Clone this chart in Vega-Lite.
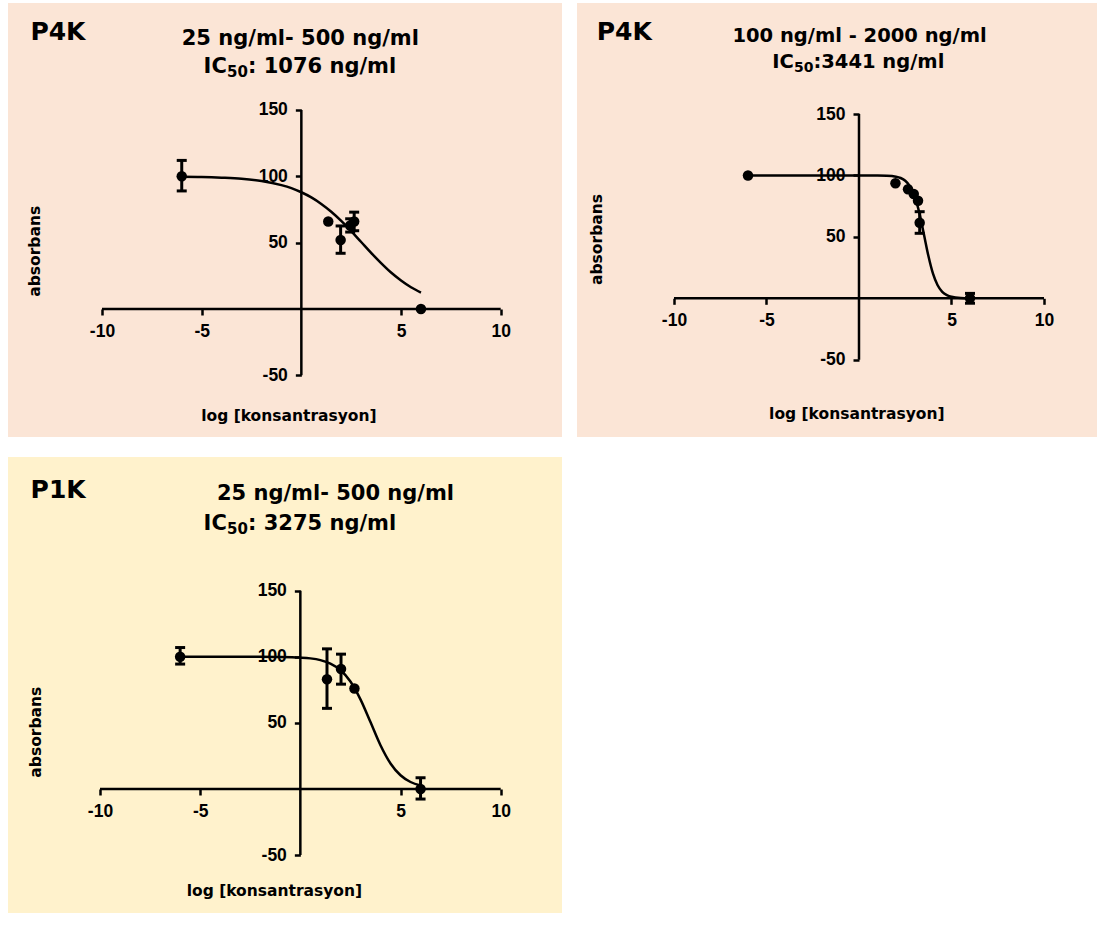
{
  "$schema": "https://vega.github.io/schema/vega-lite/v6.json",
  "background": "#ffffff",
  "padding": {"left": 8, "top": 3, "right": 0, "bottom": 0},
  "config": {
    "view": {"stroke": null},
    "axis": {
      "domain": false,
      "grid": false,
      "tickColor": "#000000",
      "tickWidth": 2.5,
      "tickSize": 6,
      "labelFont": "Liberation Sans",
      "labelFontWeight": "bold",
      "labelFontSize": 17.5,
      "labelColor": "#000000",
      "labelOverlap": false,
      "labelFlush": false,
      "labelExpr": "'' + datum.value",
      "titleFont": "DejaVu Sans",
      "titleFontWeight": "bold",
      "titleFontSize": 15.5,
      "titleColor": "#000000",
      "titleBaseline": "middle",
      "titleAlign": "center"
    },
    "text": {"font": "DejaVu Sans", "fontWeight": "bold", "color": "#000000", "baseline": "alphabetic"}
  },
  "datasets": {
    "c1": [
      {"x": -6, "y": 99.7}, {"x": -5, "y": 99.5}, {"x": -4, "y": 99.0}, {"x": -3, "y": 98.2},
      {"x": -2, "y": 96.5}, {"x": -1, "y": 93.4}, {"x": -0.5, "y": 91.1}, {"x": 0, "y": 88.0},
      {"x": 0.5, "y": 84.1}, {"x": 1, "y": 79.2}, {"x": 1.5, "y": 73.3}, {"x": 2, "y": 66.4},
      {"x": 2.5, "y": 58.7}, {"x": 3, "y": 50.5}, {"x": 3.5, "y": 42.3}, {"x": 4, "y": 34.6},
      {"x": 4.5, "y": 27.5}, {"x": 5, "y": 21.5}, {"x": 5.5, "y": 16.4}, {"x": 6, "y": 12.4}
    ],
    "pt1": [
      {"x": -6, "y": 100}, {"x": 1.35, "y": 66}, {"x": 1.97, "y": 52},
      {"x": 2.45, "y": 63}, {"x": 2.65, "y": 66}, {"x": 6, "y": 0}
    ],
    "er1": [
      {"x": -6, "lo": 89, "hi": 112}, {"x": 1.97, "lo": 42, "hi": 62.6},
      {"x": 2.45, "lo": 58, "hi": 68}, {"x": 2.65, "lo": 59, "hi": 73}
    ],
    "c2": [
      {"x": -6, "y": 100}, {"x": -4, "y": 100}, {"x": -2, "y": 100}, {"x": 0, "y": 100},
      {"x": 1, "y": 99.95}, {"x": 1.5, "y": 99.8}, {"x": 2, "y": 99.0}, {"x": 2.25, "y": 97.9},
      {"x": 2.5, "y": 95.7}, {"x": 2.75, "y": 91.3}, {"x": 3, "y": 83.3}, {"x": 3.25, "y": 70.2},
      {"x": 3.5, "y": 52.8}, {"x": 3.75, "y": 34.6}, {"x": 4, "y": 20.0}, {"x": 4.25, "y": 10.6},
      {"x": 4.5, "y": 5.3}, {"x": 4.75, "y": 2.6}, {"x": 5, "y": 1.2}, {"x": 5.5, "y": 0.3}, {"x": 6, "y": 0.1}
    ],
    "pt2": [
      {"x": -6, "y": 100}, {"x": 1.97, "y": 93.6}, {"x": 2.65, "y": 88.7}, {"x": 2.96, "y": 84.9},
      {"x": 3.19, "y": 79.4}, {"x": 3.28, "y": 61.5}, {"x": 6, "y": 0}
    ],
    "er2": [
      {"x": 3.28, "lo": 52.9, "hi": 70.5}, {"x": 6, "lo": -4, "hi": 4}
    ],
    "c3": [
      {"x": -6, "y": 100}, {"x": -4, "y": 100}, {"x": -2, "y": 99.97}, {"x": -1, "y": 99.86},
      {"x": 0, "y": 99.4}, {"x": 0.5, "y": 98.8}, {"x": 1, "y": 97.5}, {"x": 1.5, "y": 94.9},
      {"x": 2, "y": 90.0}, {"x": 2.5, "y": 81.3}, {"x": 3, "y": 67.8}, {"x": 3.5, "y": 50.6},
      {"x": 4, "y": 33.1}, {"x": 4.5, "y": 19.3}, {"x": 5, "y": 10.4}, {"x": 5.5, "y": 5.3}, {"x": 6, "y": 2.6}
    ],
    "pt3": [
      {"x": -6, "y": 100}, {"x": 1.33, "y": 83}, {"x": 2.03, "y": 90.8}, {"x": 2.7, "y": 76}, {"x": 6, "y": 0}
    ],
    "er3": [
      {"x": -6, "lo": 94.5, "hi": 107}, {"x": 1.33, "lo": 61, "hi": 106},
      {"x": 2.03, "lo": 79.3, "hi": 102}, {"x": 6, "lo": -7.6, "hi": 8.5}
    ]
  },
  "spacing": 20,
  "vconcat": [
    {
      "spacing": 15,
      "hconcat": [
        {
          "width": 554,
          "height": 434,
          "view": {"fill": "#FBE5D6", "stroke": null},
          "layer": [
            {
              "data": {"name": "c1"},
              "mark": {"type": "line", "color": "#000000", "strokeWidth": 2.5, "interpolate": "monotone"},
              "encoding": {
                "x": {"field": "x", "type": "quantitative", "scale": {"domain": [-14.715, 13.075], "nice": false, "zero": false},
                  "axis": {"offset": -128, "values": [-10, -5, 5, 10], "title": "log [konsantrasyon]", "titleX": 280.4, "titleY": 106, "labelPadding": 7}},
                "y": {"field": "y", "type": "quantitative", "scale": {"domain": [-96.48, 230.65], "nice": false, "zero": false},
                  "axis": {"offset": -293.35, "values": [-50, 50, 100, 150], "title": "absorbans", "titleX": -266.5, "titleY": 247.8, "labelPadding": 8}}
              }
            },
            {
              "data": {"values": [{}]},
              "mark": {"type": "rule", "color": "#000000", "strokeWidth": 2.5},
              "encoding": {
                "x": {"datum": -10, "type": "quantitative", "scale": {"domain": [-14.715, 13.075], "nice": false, "zero": false}},
                "x2": {"datum": 10},
                "y": {"datum": 0, "type": "quantitative", "scale": {"domain": [-96.48, 230.65], "nice": false, "zero": false}}
              }
            },
            {
              "data": {"values": [{}]},
              "mark": {"type": "rule", "color": "#000000", "strokeWidth": 2.5},
              "encoding": {
                "x": {"datum": 0, "type": "quantitative", "scale": {"domain": [-14.715, 13.075], "nice": false, "zero": false}},
                "y": {"datum": -50, "type": "quantitative", "scale": {"domain": [-96.48, 230.65], "nice": false, "zero": false}},
                "y2": {"datum": 150}
              }
            },
            {
              "data": {"name": "er1"},
              "mark": {"type": "rule", "color": "#000000", "strokeWidth": 3},
              "encoding": {
                "x": {"field": "x", "type": "quantitative", "scale": {"domain": [-14.715, 13.075], "nice": false, "zero": false}},
                "y": {"field": "lo", "type": "quantitative", "scale": {"domain": [-96.48, 230.65], "nice": false, "zero": false}},
                "y2": {"field": "hi"}
              }
            },
            {
              "data": {"name": "er1"},
              "mark": {"type": "tick", "orient": "horizontal", "color": "#000000", "size": 10, "thickness": 3, "opacity": 1},
              "encoding": {
                "x": {"field": "x", "type": "quantitative", "scale": {"domain": [-14.715, 13.075], "nice": false, "zero": false}},
                "y": {"field": "lo", "type": "quantitative", "scale": {"domain": [-96.48, 230.65], "nice": false, "zero": false}}
              }
            },
            {
              "data": {"name": "er1"},
              "mark": {"type": "tick", "orient": "horizontal", "color": "#000000", "size": 10, "thickness": 3, "opacity": 1},
              "encoding": {
                "x": {"field": "x", "type": "quantitative", "scale": {"domain": [-14.715, 13.075], "nice": false, "zero": false}},
                "y": {"field": "hi", "type": "quantitative", "scale": {"domain": [-96.48, 230.65], "nice": false, "zero": false}}
              }
            },
            {
              "data": {"name": "pt1"},
              "mark": {"type": "circle", "color": "#000000", "size": 110, "opacity": 1},
              "encoding": {
                "x": {"field": "x", "type": "quantitative", "scale": {"domain": [-14.715, 13.075], "nice": false, "zero": false}},
                "y": {"field": "y", "type": "quantitative", "scale": {"domain": [-96.48, 230.65], "nice": false, "zero": false}}
              }
            },
            {
              "data": {"values": [{}]},
              "mark": {"type": "text", "text": "P4K", "fontSize": 25, "align": "left"},
              "encoding": {
                "x": {"datum": -13.592, "type": "quantitative", "scale": {"domain": [-14.715, 13.075], "nice": false, "zero": false}},
                "y": {"datum": 202.76, "type": "quantitative", "scale": {"domain": [-96.48, 230.65], "nice": false, "zero": false}}
              }
            },
            {
              "data": {"values": [{}]},
              "mark": {"type": "text", "text": "25 ng/ml- 500 ng/ml", "fontSize": 21, "align": "center"},
              "encoding": {
                "x": {"datum": -0.05, "type": "quantitative", "scale": {"domain": [-14.715, 13.075], "nice": false, "zero": false}},
                "y": {"datum": 199.0, "type": "quantitative", "scale": {"domain": [-96.48, 230.65], "nice": false, "zero": false}}
              }
            },
            {
              "data": {"values": [{}]},
              "mark": {"type": "text", "text": "IC", "fontSize": 21, "align": "left"},
              "encoding": {
                "x": {"datum": -4.903, "type": "quantitative", "scale": {"domain": [-14.715, 13.075], "nice": false, "zero": false}},
                "y": {"datum": 178.1, "type": "quantitative", "scale": {"domain": [-96.48, 230.65], "nice": false, "zero": false}}
              }
            },
            {
              "data": {"values": [{}]},
              "mark": {"type": "text", "text": "50", "fontSize": 15, "align": "left"},
              "encoding": {
                "x": {"datum": -3.73, "type": "quantitative", "scale": {"domain": [-14.715, 13.075], "nice": false, "zero": false}},
                "y": {"datum": 175.1, "type": "quantitative", "scale": {"domain": [-96.48, 230.65], "nice": false, "zero": false}}
              }
            },
            {
              "data": {"values": [{}]},
              "mark": {"type": "text", "text": ": 1076 ng/ml", "fontSize": 21, "align": "left"},
              "encoding": {
                "x": {"datum": -2.676, "type": "quantitative", "scale": {"domain": [-14.715, 13.075], "nice": false, "zero": false}},
                "y": {"datum": 178.1, "type": "quantitative", "scale": {"domain": [-96.48, 230.65], "nice": false, "zero": false}}
              }
            }
          ]
        },
        {
          "width": 520,
          "height": 434,
          "view": {"fill": "#FBE5D6", "stroke": null},
          "layer": [
            {
              "data": {"name": "c2"},
              "mark": {"type": "line", "color": "#000000", "strokeWidth": 2.5, "interpolate": "monotone"},
              "encoding": {
                "x": {"field": "x", "type": "quantitative", "scale": {"domain": [-15.243, 12.865], "nice": false, "zero": false},
                  "axis": {"offset": -138.7, "values": [-10, -5, 5, 10], "title": "log [konsantrasyon]", "titleX": 279.3, "titleY": 114.7, "labelPadding": 7}},
                "y": {"field": "y", "type": "quantitative", "scale": {"domain": [-112.88, 240.34], "nice": false, "zero": false},
                  "axis": {"offset": -282, "values": [-50, 50, 100, 150], "title": "absorbans", "titleX": -262.3, "titleY": 236, "labelPadding": 8}}
              }
            },
            {
              "data": {"values": [{}]},
              "mark": {"type": "rule", "color": "#000000", "strokeWidth": 2.5},
              "encoding": {
                "x": {"datum": -10, "type": "quantitative", "scale": {"domain": [-15.243, 12.865], "nice": false, "zero": false}},
                "x2": {"datum": 10},
                "y": {"datum": 0, "type": "quantitative", "scale": {"domain": [-112.88, 240.34], "nice": false, "zero": false}}
              }
            },
            {
              "data": {"values": [{}]},
              "mark": {"type": "rule", "color": "#000000", "strokeWidth": 2.5},
              "encoding": {
                "x": {"datum": 0, "type": "quantitative", "scale": {"domain": [-15.243, 12.865], "nice": false, "zero": false}},
                "y": {"datum": -50, "type": "quantitative", "scale": {"domain": [-112.88, 240.34], "nice": false, "zero": false}},
                "y2": {"datum": 150}
              }
            },
            {
              "data": {"name": "er2"},
              "mark": {"type": "rule", "color": "#000000", "strokeWidth": 3},
              "encoding": {
                "x": {"field": "x", "type": "quantitative", "scale": {"domain": [-15.243, 12.865], "nice": false, "zero": false}},
                "y": {"field": "lo", "type": "quantitative", "scale": {"domain": [-112.88, 240.34], "nice": false, "zero": false}},
                "y2": {"field": "hi"}
              }
            },
            {
              "data": {"name": "er2"},
              "mark": {"type": "tick", "orient": "horizontal", "color": "#000000", "size": 10, "thickness": 3, "opacity": 1},
              "encoding": {
                "x": {"field": "x", "type": "quantitative", "scale": {"domain": [-15.243, 12.865], "nice": false, "zero": false}},
                "y": {"field": "lo", "type": "quantitative", "scale": {"domain": [-112.88, 240.34], "nice": false, "zero": false}}
              }
            },
            {
              "data": {"name": "er2"},
              "mark": {"type": "tick", "orient": "horizontal", "color": "#000000", "size": 10, "thickness": 3, "opacity": 1},
              "encoding": {
                "x": {"field": "x", "type": "quantitative", "scale": {"domain": [-15.243, 12.865], "nice": false, "zero": false}},
                "y": {"field": "hi", "type": "quantitative", "scale": {"domain": [-112.88, 240.34], "nice": false, "zero": false}}
              }
            },
            {
              "data": {"name": "pt2"},
              "mark": {"type": "circle", "color": "#000000", "size": 110, "opacity": 1},
              "encoding": {
                "x": {"field": "x", "type": "quantitative", "scale": {"domain": [-15.243, 12.865], "nice": false, "zero": false}},
                "y": {"field": "y", "type": "quantitative", "scale": {"domain": [-112.88, 240.34], "nice": false, "zero": false}}
              }
            },
            {
              "data": {"values": [{}]},
              "mark": {"type": "text", "text": "P4K", "fontSize": 25, "align": "left"},
              "encoding": {
                "x": {"datum": -14.178, "type": "quantitative", "scale": {"domain": [-15.243, 12.865], "nice": false, "zero": false}},
                "y": {"datum": 210.2, "type": "quantitative", "scale": {"domain": [-112.88, 240.34], "nice": false, "zero": false}}
              }
            },
            {
              "data": {"values": [{}]},
              "mark": {"type": "text", "text": "100 ng/ml - 2000 ng/ml", "fontSize": 19.5, "align": "center"},
              "encoding": {
                "x": {"datum": 0.03, "type": "quantitative", "scale": {"domain": [-15.243, 12.865], "nice": false, "zero": false}},
                "y": {"datum": 208.8, "type": "quantitative", "scale": {"domain": [-112.88, 240.34], "nice": false, "zero": false}}
              }
            },
            {
              "data": {"values": [{}]},
              "mark": {"type": "text", "text": "IC", "fontSize": 19.5, "align": "left"},
              "encoding": {
                "x": {"datum": -4.692, "type": "quantitative", "scale": {"domain": [-15.243, 12.865], "nice": false, "zero": false}},
                "y": {"datum": 187.4, "type": "quantitative", "scale": {"domain": [-112.88, 240.34], "nice": false, "zero": false}}
              }
            },
            {
              "data": {"values": [{}]},
              "mark": {"type": "text", "text": "50", "fontSize": 14, "align": "left"},
              "encoding": {
                "x": {"datum": -3.514, "type": "quantitative", "scale": {"domain": [-15.243, 12.865], "nice": false, "zero": false}},
                "y": {"datum": 184.2, "type": "quantitative", "scale": {"domain": [-112.88, 240.34], "nice": false, "zero": false}}
              }
            },
            {
              "data": {"values": [{}]},
              "mark": {"type": "text", "text": ":3441 ng/ml", "fontSize": 19.5, "align": "left"},
              "encoding": {
                "x": {"datum": -2.459, "type": "quantitative", "scale": {"domain": [-15.243, 12.865], "nice": false, "zero": false}},
                "y": {"datum": 187.4, "type": "quantitative", "scale": {"domain": [-112.88, 240.34], "nice": false, "zero": false}}
              }
            }
          ]
        }
      ]
    },
    {
      "width": 554,
      "height": 456,
      "view": {"fill": "#FFF2CC", "stroke": null},
      "layer": [
        {
          "data": {"name": "c3"},
          "mark": {"type": "line", "color": "#000000", "strokeWidth": 2.5, "interpolate": "monotone"},
          "encoding": {
            "x": {"field": "x", "type": "quantitative", "scale": {"domain": [-14.592, 13.06], "nice": false, "zero": false},
              "axis": {"offset": -124, "values": [-10, -5, 5, 10], "title": "log [konsantrasyon]", "titleX": 265.9, "titleY": 101.5, "labelPadding": 7}},
            "y": {"field": "y", "type": "quantitative", "scale": {"domain": [-93.8, 251.13], "nice": false, "zero": false},
              "axis": {"offset": -292.35, "values": [-50, 50, 100, 150], "title": "absorbans", "titleX": -265.3, "titleY": 274.7, "labelPadding": 8}}
          }
        },
        {
          "data": {"values": [{}]},
          "mark": {"type": "rule", "color": "#000000", "strokeWidth": 2.5},
          "encoding": {
            "x": {"datum": -10, "type": "quantitative", "scale": {"domain": [-14.592, 13.06], "nice": false, "zero": false}},
            "x2": {"datum": 10},
            "y": {"datum": 0, "type": "quantitative", "scale": {"domain": [-93.8, 251.13], "nice": false, "zero": false}}
          }
        },
        {
          "data": {"values": [{}]},
          "mark": {"type": "rule", "color": "#000000", "strokeWidth": 2.5},
          "encoding": {
            "x": {"datum": 0, "type": "quantitative", "scale": {"domain": [-14.592, 13.06], "nice": false, "zero": false}},
            "y": {"datum": -50, "type": "quantitative", "scale": {"domain": [-93.8, 251.13], "nice": false, "zero": false}},
            "y2": {"datum": 150}
          }
        },
        {
          "data": {"name": "er3"},
          "mark": {"type": "rule", "color": "#000000", "strokeWidth": 3},
          "encoding": {
            "x": {"field": "x", "type": "quantitative", "scale": {"domain": [-14.592, 13.06], "nice": false, "zero": false}},
            "y": {"field": "lo", "type": "quantitative", "scale": {"domain": [-93.8, 251.13], "nice": false, "zero": false}},
            "y2": {"field": "hi"}
          }
        },
        {
          "data": {"name": "er3"},
          "mark": {"type": "tick", "orient": "horizontal", "color": "#000000", "size": 10, "thickness": 3, "opacity": 1},
          "encoding": {
            "x": {"field": "x", "type": "quantitative", "scale": {"domain": [-14.592, 13.06], "nice": false, "zero": false}},
            "y": {"field": "lo", "type": "quantitative", "scale": {"domain": [-93.8, 251.13], "nice": false, "zero": false}}
          }
        },
        {
          "data": {"name": "er3"},
          "mark": {"type": "tick", "orient": "horizontal", "color": "#000000", "size": 10, "thickness": 3, "opacity": 1},
          "encoding": {
            "x": {"field": "x", "type": "quantitative", "scale": {"domain": [-14.592, 13.06], "nice": false, "zero": false}},
            "y": {"field": "hi", "type": "quantitative", "scale": {"domain": [-93.8, 251.13], "nice": false, "zero": false}}
          }
        },
        {
          "data": {"name": "pt3"},
          "mark": {"type": "circle", "color": "#000000", "size": 110, "opacity": 1},
          "encoding": {
            "x": {"field": "x", "type": "quantitative", "scale": {"domain": [-14.592, 13.06], "nice": false, "zero": false}},
            "y": {"field": "y", "type": "quantitative", "scale": {"domain": [-93.8, 251.13], "nice": false, "zero": false}}
          }
        },
        {
          "data": {"values": [{}]},
          "mark": {"type": "text", "text": "P1K", "fontSize": 25, "align": "left"},
          "encoding": {
            "x": {"datum": -13.464, "type": "quantitative", "scale": {"domain": [-14.592, 13.06], "nice": false, "zero": false}},
            "y": {"datum": 219.9, "type": "quantitative", "scale": {"domain": [-93.8, 251.13], "nice": false, "zero": false}}
          }
        },
        {
          "data": {"values": [{}]},
          "mark": {"type": "text", "text": "25 ng/ml- 500 ng/ml", "fontSize": 21, "align": "center"},
          "encoding": {
            "x": {"datum": 1.754, "type": "quantitative", "scale": {"domain": [-14.592, 13.06], "nice": false, "zero": false}},
            "y": {"datum": 218.6, "type": "quantitative", "scale": {"domain": [-93.8, 251.13], "nice": false, "zero": false}}
          }
        },
        {
          "data": {"values": [{}]},
          "mark": {"type": "text", "text": "IC", "fontSize": 21, "align": "left"},
          "encoding": {
            "x": {"datum": -4.829, "type": "quantitative", "scale": {"domain": [-14.592, 13.06], "nice": false, "zero": false}},
            "y": {"datum": 195.9, "type": "quantitative", "scale": {"domain": [-93.8, 251.13], "nice": false, "zero": false}}
          }
        },
        {
          "data": {"values": [{}]},
          "mark": {"type": "text", "text": "50", "fontSize": 15, "align": "left"},
          "encoding": {
            "x": {"datum": -3.661, "type": "quantitative", "scale": {"domain": [-14.592, 13.06], "nice": false, "zero": false}},
            "y": {"datum": 192.9, "type": "quantitative", "scale": {"domain": [-93.8, 251.13], "nice": false, "zero": false}}
          }
        },
        {
          "data": {"values": [{}]},
          "mark": {"type": "text", "text": ": 3275 ng/ml", "fontSize": 21, "align": "left"},
          "encoding": {
            "x": {"datum": -2.613, "type": "quantitative", "scale": {"domain": [-14.592, 13.06], "nice": false, "zero": false}},
            "y": {"datum": 195.9, "type": "quantitative", "scale": {"domain": [-93.8, 251.13], "nice": false, "zero": false}}
          }
        }
      ]
    }
  ]
}
